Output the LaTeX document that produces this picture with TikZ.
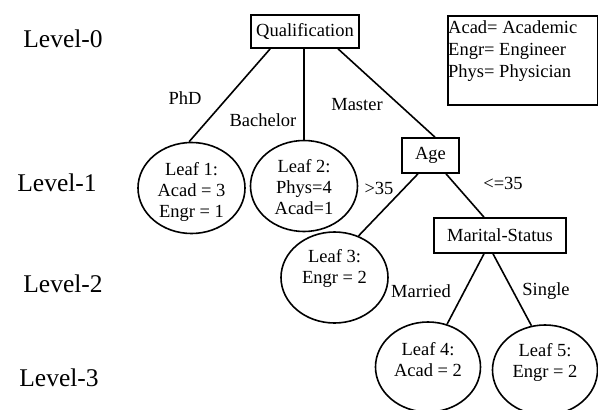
\documentclass[tikz,border=0pt]{standalone}
\usepackage{fontspec}
\setmainfont{Liberation Serif}
\usetikzlibrary{shapes.geometric,calc}
\begin{document}
\begin{tikzpicture}[x=1pt,y=-1pt,
  every node/.style={font=\fontsize{18.5}{21}\selectfont, inner sep=0pt},
  box/.style={draw, line width=1.6pt, rectangle},
  leaf/.style={draw, line width=1.6pt, ellipse, minimum width=107pt, minimum height=91pt},
  lvl/.style={font=\fontsize{25.5}{28}\selectfont},
  edge/.style={line width=1.6pt},
  lbl/.style={}]
\useasboundingbox (0,0) rectangle (598,410);
% level labels
\node[lvl] (lv0) at (63,39) {Level-0};
\node[lvl] (lv1) at (57,183) {Level-1};
\node[lvl] (lv2) at (63,284) {Level-2};
\node[lvl] (lv3) at (59,378) {Level-3};
% decision nodes
\node[box, minimum width=108pt, minimum height=33pt] (q) at (305,31.5) {Qualification};
\node[box, minimum width=57pt, minimum height=35pt] (age) at (430.5,155.5) {Age};
\node[box, minimum width=132pt, minimum height=35pt] (ms) at (500,235.5) {Marital-Status};
% legend
\node[box, anchor=north west, minimum width=150pt, minimum height=89pt] (leg) at (447,15) {};
\node[anchor=north west, align=left, font=\fontsize{18.5}{22}\selectfont] (legtxt) at (448,20.5) {Acad= Academic\\Engr= Engineer\\Phys= Physician};
% leaves
\node[leaf] (l1) at (191.5,188) {};
\node[align=center] (t1) at (191.5,192) {Leaf 1:\\Acad = 3\\Engr = 1};
\node[leaf] (l2) at (304,186) {};
\node[align=center] (t2) at (304,187.5) {Leaf 2:\\Phys=4\\Acad=1};
\node[leaf] (l3) at (334.5,277.5) {};
\node[align=center] (t3) at (334.5,268) {Leaf 3:\\Engr = 2};
\node[leaf, minimum width=105pt, minimum height=90pt] (l4) at (428,367) {};
\node[align=center] (t4) at (428,359.5) {Leaf 4:\\Acad = 2};
\node[leaf, minimum width=105pt, minimum height=90pt] (l5) at (545,370) {};
\node[align=center] (t5) at (545,362) {Leaf 5:\\Engr = 2};
% edges
\draw[edge] ($(q.south west)+(20,0)$) -- (l1.93);
\draw[edge] (l2.north |- q.south) -- (l2.north);
\draw[edge] ($(q.south)+(33,0)$) -- ($(age.north)+(4.5,0)$);
\draw[edge] ($(age.south)+(-12.5,0)$) -- (l3.60);
\draw[edge] ($(age.south)+(15.5,0)$) -- ($(ms.north)+(-16,0)$);
\draw[edge] ($(ms.south)+(-16,0)$) -- (l4.66);
\draw[edge] ($(ms.south)+(-7,0)$) -- (l5.107);
% edge labels
\node[lbl] (phd) at (185,98) {PhD};
\node[lbl] (bach) at (263,120) {Bachelor};
\node[lbl] (mast) at (357,105) {Master};
\node[lbl] (gt) at (379,188) {>35};
\node[lbl] (le) at (503,183) {<=35};
\node[lbl] (mar) at (421,291) {Married};
\node[lbl] (sgl) at (546,291) {Single};
\end{tikzpicture}
\end{document}
